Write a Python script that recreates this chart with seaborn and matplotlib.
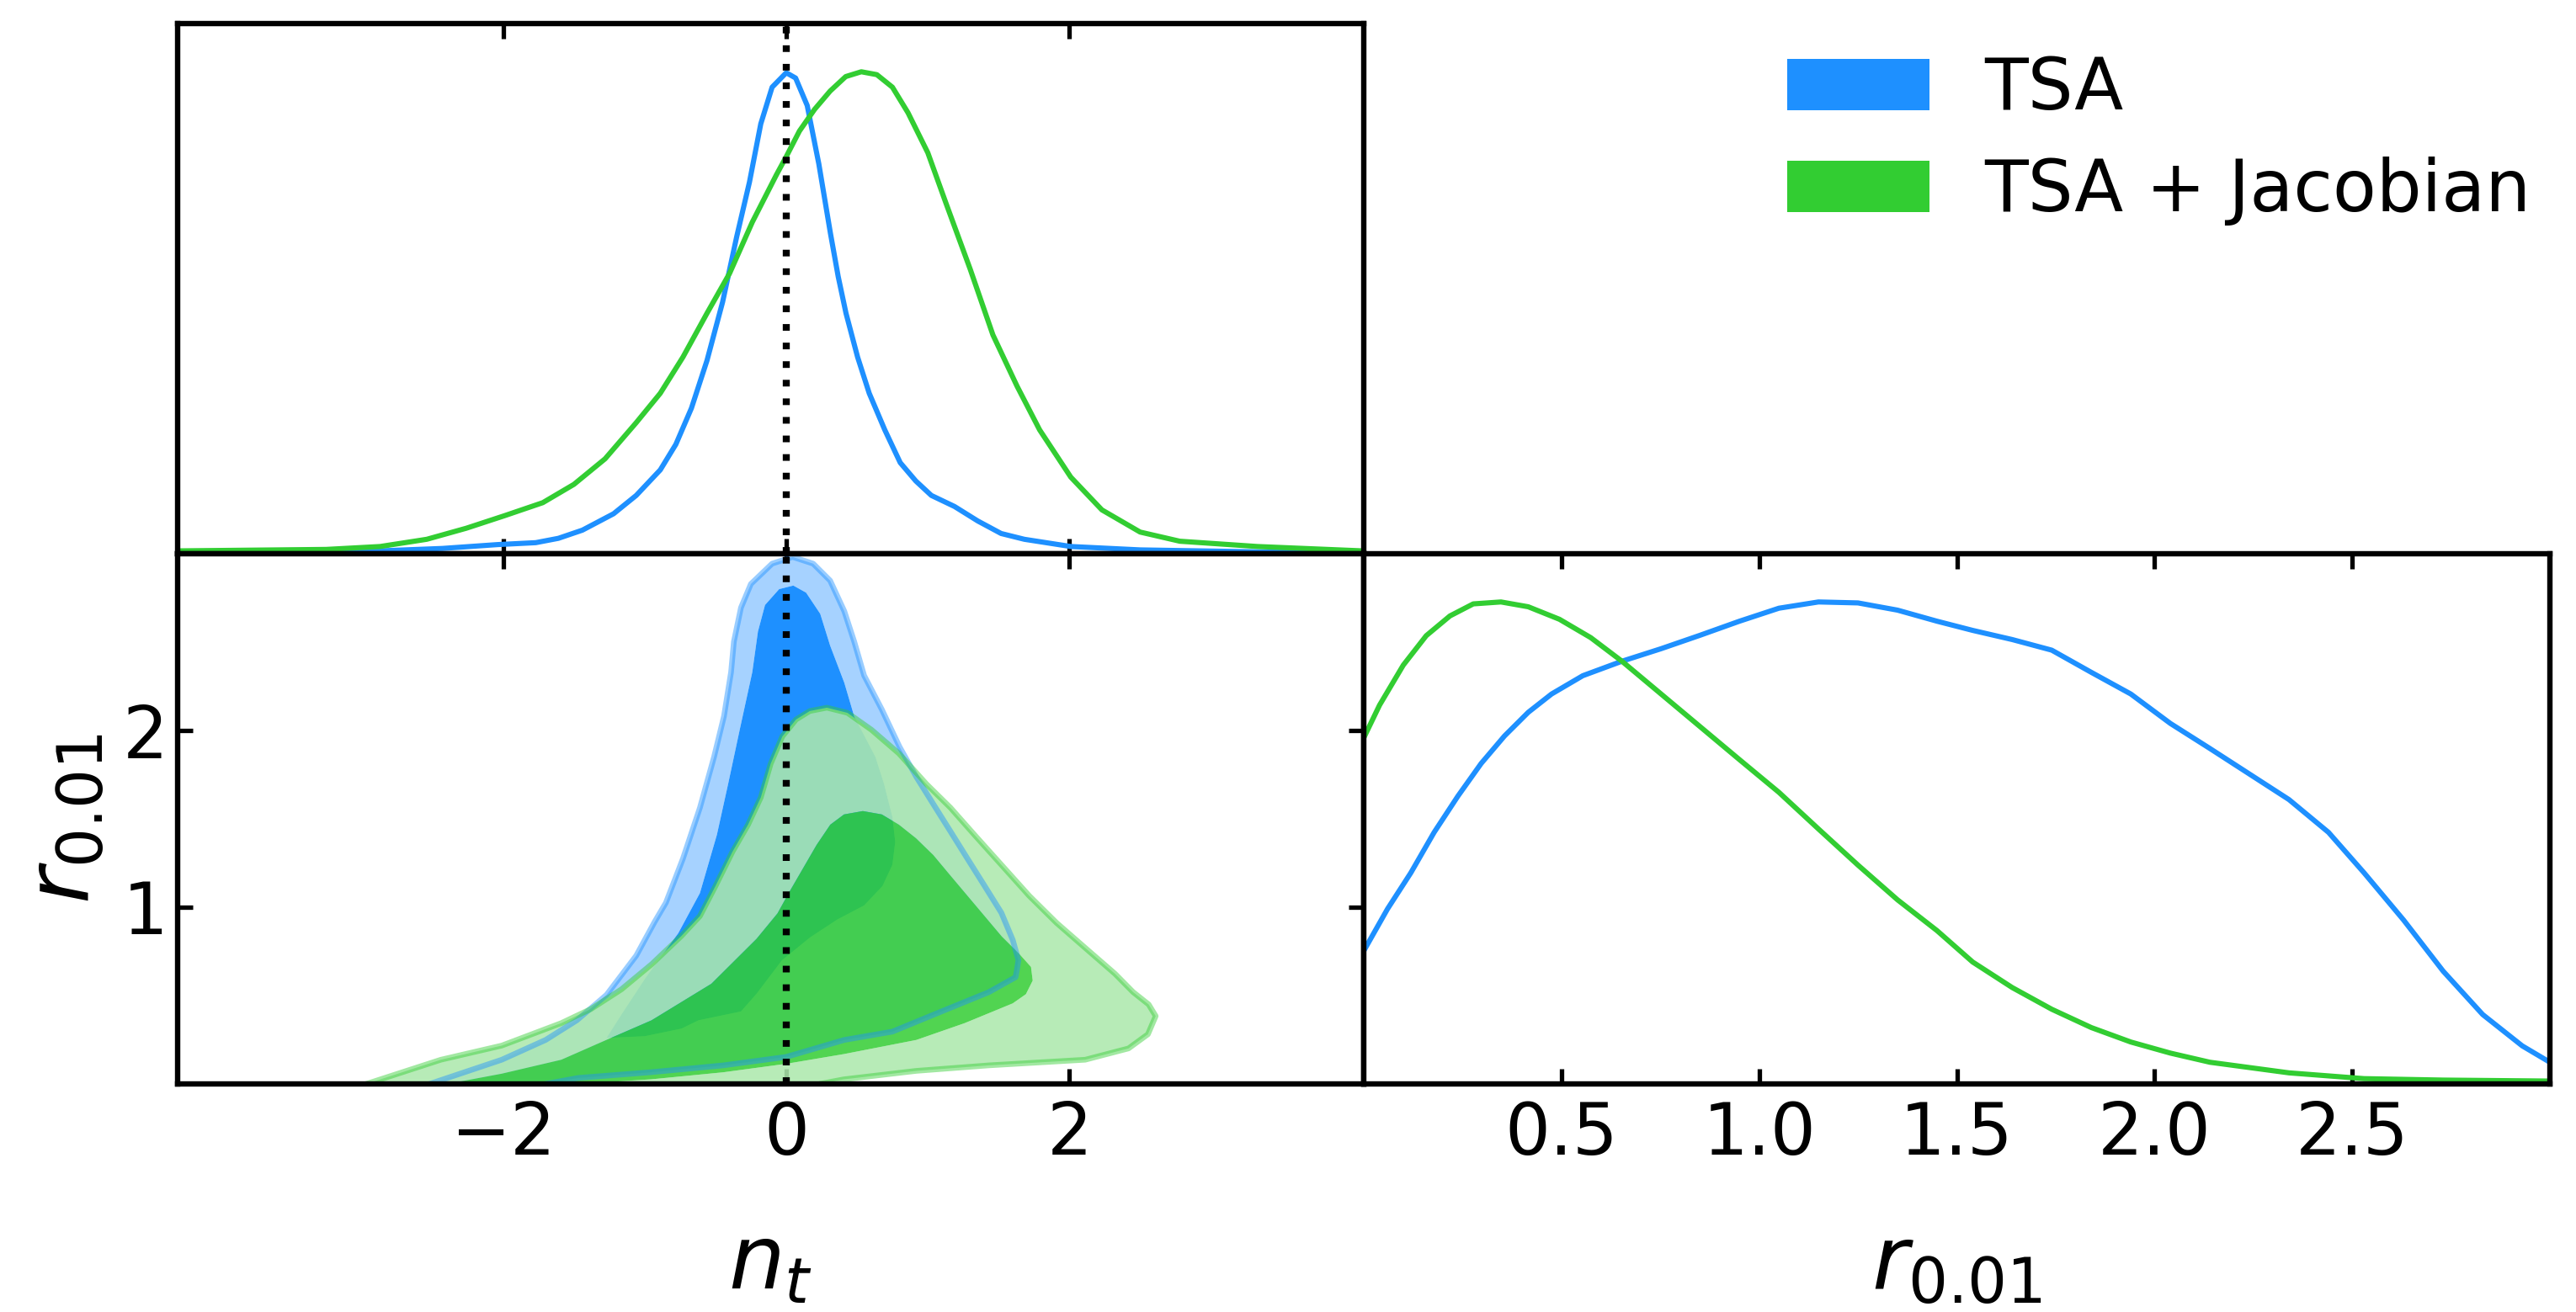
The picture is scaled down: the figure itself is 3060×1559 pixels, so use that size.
import numpy as np
import matplotlib
matplotlib.use("Agg")
import matplotlib.pyplot as plt
import seaborn as sns
from matplotlib.patches import Patch, PathPatch
from matplotlib.path import Path

# ---- 1D marginals (peak normalised to 1) ----
nt_blue_x = [-4.29, -2.87, -2.43, -2.04, -1.77, -1.61, -1.44, -1.22, -1.06, -0.89, -0.78, -0.67,
             -0.56, -0.45, -0.35, -0.26, -0.18, -0.10, 0.0, 0.066, 0.148, 0.23, 0.312, 0.367,
             0.422, 0.504, 0.586, 0.696, 0.805, 0.915, 1.025, 1.189, 1.353, 1.518, 1.682,
             2.011, 2.50, 3.33, 4.07]
nt_blue_y = [0.004, 0.006, 0.011, 0.019, 0.023, 0.032, 0.049, 0.083, 0.121, 0.174, 0.227, 0.302,
             0.401, 0.522, 0.658, 0.771, 0.892, 0.968, 0.998, 0.987, 0.930, 0.809, 0.665, 0.575,
             0.499, 0.408, 0.333, 0.257, 0.189, 0.151, 0.121, 0.098, 0.068, 0.042, 0.030,
             0.015, 0.008, 0.004, 0.002]

nt_green_x = [-4.29, -3.25, -2.87, -2.54, -2.26, -1.99, -1.72, -1.50, -1.28, -1.06, -0.89, -0.73,
              -0.56, -0.40, -0.24, -0.07, 0.0, 0.093, 0.20, 0.31, 0.42, 0.53, 0.64, 0.75, 0.86,
              1.00, 1.13, 1.30, 1.46, 1.63, 1.79, 2.01, 2.23, 2.50, 2.78, 3.33, 4.07]
nt_green_y = [0.006, 0.009, 0.015, 0.030, 0.053, 0.079, 0.106, 0.144, 0.197, 0.272, 0.333, 0.408,
              0.499, 0.582, 0.688, 0.786, 0.824, 0.877, 0.922, 0.960, 0.990, 1.0, 0.994, 0.968,
              0.915, 0.832, 0.726, 0.590, 0.454, 0.348, 0.257, 0.159, 0.091, 0.045, 0.026,
              0.015, 0.006]

r_green_x = [0.0, 0.04, 0.10, 0.158, 0.218, 0.277, 0.347, 0.416, 0.495, 0.574, 0.653, 0.752,
             0.851, 0.950, 1.05, 1.15, 1.25, 1.35, 1.45, 1.54, 1.64, 1.74, 1.84, 1.94, 2.04,
             2.14, 2.34, 2.53, 2.73, 3.0]
r_green_y = [0.718, 0.786, 0.869, 0.930, 0.971, 0.996, 1.0, 0.990, 0.964, 0.926, 0.877, 0.809,
             0.741, 0.673, 0.605, 0.529, 0.454, 0.382, 0.318, 0.253, 0.200, 0.155, 0.117, 0.087,
             0.064, 0.045, 0.023, 0.011, 0.008, 0.006]

r_blue_x = [0.0, 0.06, 0.119, 0.178, 0.238, 0.297, 0.356, 0.416, 0.475, 0.554, 0.653, 0.752,
            0.851, 0.950, 1.05, 1.15, 1.25, 1.35, 1.45, 1.54, 1.64, 1.74, 1.84, 1.94, 2.04,
            2.14, 2.24, 2.34, 2.44, 2.53, 2.63, 2.73, 2.83, 2.93, 3.0]
r_blue_y = [0.276, 0.363, 0.438, 0.522, 0.597, 0.665, 0.722, 0.771, 0.809, 0.847, 0.877, 0.903,
            0.931, 0.960, 0.987, 1.0, 0.998, 0.983, 0.960, 0.941, 0.922, 0.900, 0.854, 0.809,
            0.748, 0.696, 0.643, 0.590, 0.522, 0.438, 0.340, 0.234, 0.144, 0.079, 0.045]

# ---- 2D contours (68% inner, 95% outer), n_t vs r ----
blue95_x = [-2.52, -2.01, -1.70, -1.48, -1.27, -1.06, -0.93, -0.85, -0.73, -0.61, -0.51, -0.44,
            -0.39, -0.37, -0.32, -0.25, -0.10, 0.045, 0.19, 0.31, 0.41, 0.48, 0.55, 0.675, 0.80,
            0.92, 1.04, 1.16, 1.28, 1.40, 1.52, 1.60, 1.64, 1.63, 1.62, 1.43, 1.09, 0.75, 0.41,
            0.0, -0.445, -0.96, -1.47, -1.70]
blue95_y = [0.0, 0.137, 0.249, 0.36, 0.504, 0.726, 0.917, 1.026, 1.275, 1.563, 1.851, 2.081,
            2.33, 2.503, 2.695, 2.829, 2.944, 2.982, 2.944, 2.848, 2.675, 2.503, 2.311, 2.119,
            1.908, 1.736, 1.582, 1.429, 1.275, 1.122, 0.968, 0.815, 0.70, 0.647, 0.604, 0.519,
            0.408, 0.296, 0.249, 0.153, 0.105, 0.066, 0.034, 0.0]

blue68_x = [-1.27, -1.165, -0.995, -0.763, -0.61, -0.49, -0.41, -0.33, -0.24, -0.20, -0.15,
            -0.05, 0.05, 0.14, 0.24, 0.31, 0.41, 0.48, 0.63, 0.69, 0.75, 0.77, 0.75, 0.68, 0.55,
            0.36, 0.17, -0.03, -0.21, -0.32, -0.62, -0.74, -1.0]
blue68_y = [0.26, 0.392, 0.599, 0.853, 1.08, 1.41, 1.70, 2.00, 2.33, 2.56, 2.71, 2.80, 2.82,
            2.78, 2.66, 2.48, 2.27, 2.08, 1.85, 1.70, 1.51, 1.37, 1.24, 1.12, 1.01, 0.93, 0.83,
            0.70, 0.51, 0.41, 0.36, 0.313, 0.27]

green95_x = [-2.967, -2.44, -2.01, -1.59, -1.38, -1.165, -0.95, -0.74, -0.61, -0.50, -0.38,
             -0.27, -0.18, -0.11, -0.028, 0.069, 0.166, 0.287, 0.432, 0.602, 0.796, 0.99, 1.16,
             1.329, 1.523, 1.717, 1.91, 2.129, 2.323, 2.45, 2.56, 2.61, 2.555, 2.418, 2.112,
             1.429, 0.919, 0.407, 0.236]
green95_y = [0.0, 0.137, 0.217, 0.344, 0.424, 0.535, 0.678, 0.838, 0.95, 1.12, 1.314, 1.467,
             1.621, 1.812, 1.966, 2.062, 2.110, 2.129, 2.100, 2.004, 1.870, 1.697, 1.563, 1.410,
             1.237, 1.064, 0.911, 0.758, 0.623, 0.52, 0.45, 0.384, 0.281, 0.201, 0.137, 0.105,
             0.074, 0.026, 0.0]

green68_x = [-2.395, -2.01, -1.589, -1.271, -0.952, -0.529, -0.21, -0.062, 0.020, 0.117, 0.214,
             0.311, 0.408, 0.541, 0.675, 0.796, 0.917, 1.039, 1.160, 1.281, 1.402, 1.523, 1.644,
             1.729, 1.741, 1.693, 1.60, 1.26, 0.919, 0.407, 0.0, -0.445, -0.957, -1.468]
green68_y = [0.0, 0.058, 0.137, 0.249, 0.36, 0.567, 0.821, 0.965, 1.084, 1.218, 1.352, 1.467,
             1.525, 1.544, 1.525, 1.467, 1.390, 1.295, 1.179, 1.064, 0.949, 0.834, 0.738, 0.662,
             0.585, 0.508, 0.456, 0.344, 0.249, 0.169, 0.114, 0.066, 0.026, 0.0]

labels = ['TSA', 'TSA + Jacobian']
BLUE = '#1E90FF'
GREEN = '#32CD32'


def ring_area(xy):
    x, y = xy[:, 0], xy[:, 1]
    return 0.5 * np.sum(x * np.roll(y, -1) - np.roll(x, -1) * y)


def fill_band(ax, ox, oy, ix, iy, color, alpha, z):
    # outer contour minus inner contour, like a contourf band
    outer = np.column_stack([ox, oy])
    inner = np.column_stack([ix, iy])
    if ring_area(outer) * ring_area(inner) > 0:
        inner = inner[::-1]
    verts = np.vstack([outer, outer[:1], inner, inner[:1]])
    codes = ([Path.MOVETO] + [Path.LINETO] * (len(outer) - 1) + [Path.CLOSEPOLY]
             + [Path.MOVETO] + [Path.LINETO] * (len(inner) - 1) + [Path.CLOSEPOLY])
    ax.add_patch(PathPatch(Path(verts, codes), facecolor=color, edgecolor='none',
                           alpha=alpha, zorder=z))


sns.set_style('white')
plt.rcParams['font.family'] = ['DejaVu Sans']
plt.rcParams['mathtext.fontset'] = 'dejavusans'
plt.rcParams['text.color'] = 'black'
plt.rcParams['axes.labelcolor'] = 'black'
plt.rcParams['xtick.color'] = 'black'
plt.rcParams['ytick.color'] = 'black'
plt.rcParams['axes.edgecolor'] = 'black'

W, H = 3060, 1559
fig = plt.figure(figsize=(W / 200, H / 200), dpi=200)
fig.patch.set_facecolor('white')

ax_top = fig.add_axes([211 / W, 1 - 658 / H, 1409 / W, 630 / H])
ax_2d = fig.add_axes([211 / W, 1 - 1288 / H, 1409 / W, 630 / H])
ax_r = fig.add_axes([1620 / W, 1 - 1288 / H, 1409 / W, 630 / H])

LW = 2.2
SPINE = 2.3
dots = (0, (0.95, 1.7))

# top: n_t marginal
sns.lineplot(x=nt_blue_x, y=nt_blue_y, ax=ax_top, color=BLUE, lw=LW)
sns.lineplot(x=nt_green_x, y=nt_green_y, ax=ax_top, color=GREEN, lw=LW)
ax_top.axvline(0, color='black', ls=dots, lw=3.0, zorder=5)
ax_top.set_xlim(-4.3, 4.08)
ax_top.set_ylim(0, 1.1)
ax_top.set_xticks([-2, 0, 2])
ax_top.set_yticks([])
ax_top.tick_params(axis='x', direction='in', top=True, bottom=True, labelbottom=False,
                   length=6.5, width=1.9)

# 2D panel
fill_band(ax_2d, blue95_x, blue95_y, blue68_x, blue68_y, '#A6D2FF', 1.0, 1)
ax_2d.fill(blue68_x, blue68_y, color=BLUE, lw=0, zorder=1)
fill_band(ax_2d, green95_x, green95_y, green68_x, green68_y, '#ADE8AD', 0.87, 2)
ax_2d.fill(green68_x, green68_y, color=GREEN, alpha=0.85, lw=0, zorder=2)
ax_2d.plot(blue95_x, blue95_y, color=BLUE, alpha=0.45, lw=2.4, zorder=3)
ax_2d.plot(green95_x, green95_y, color=GREEN, alpha=0.45, lw=2.4, zorder=3)
ax_2d.axvline(0, color='black', ls=dots, lw=3.0, zorder=5)
ax_2d.set_xlim(-4.3, 4.08)
ax_2d.set_ylim(0, 3.0)
ax_2d.set_xticks([-2, 0, 2])
ax_2d.set_yticks([1, 2])
ax_2d.tick_params(direction='in', top=True, bottom=True, left=True, right=True,
                  length=6.5, width=1.9, labelsize=30.5)
ax_2d.tick_params(axis='x', pad=6.8)
ax_2d.tick_params(axis='y', pad=4)
ax_2d.set_xlabel(r'$n_t$', fontsize=38)
ax_2d.set_ylabel(r'$r_{0.01}$', fontsize=38)
ax_2d.xaxis.set_label_coords(0.5, -0.259)
ax_2d.yaxis.set_label_coords(-0.059, 0.5)

# right: r marginal
sns.lineplot(x=r_blue_x, y=r_blue_y, ax=ax_r, color=BLUE, lw=LW)
sns.lineplot(x=r_green_x, y=r_green_y, ax=ax_r, color=GREEN, lw=LW)
ax_r.set_xlim(0, 3.0)
ax_r.set_ylim(0, 1.1)
ax_r.set_xticks([0.5, 1.0, 1.5, 2.0, 2.5])
ax_r.set_yticks([])
ax_r.tick_params(axis='x', direction='in', top=True, bottom=True, length=6.5, width=1.9,
                 labelsize=30.5, pad=6.8)
ax_r.set_xlabel(r'$r_{0.01}$', fontsize=38)
ax_r.xaxis.set_label_coords(0.5, -0.259)

for ax in (ax_top, ax_2d, ax_r):
    for s in ax.spines.values():
        s.set_linewidth(SPINE)
        s.set_color('black')
        s.set_zorder(10)

handles = [Patch(facecolor=c, edgecolor='none', label=l) for c, l in zip([BLUE, GREEN], labels)]
fig.legend(handles=handles, loc='upper left', bbox_to_anchor=(2123 / W, 1 - 65 / H),
           frameon=False, fontsize=30.5, handlelength=2.0, handleheight=0.72,
           handletextpad=0.76, labelspacing=0.45, borderpad=0, borderaxespad=0)

fig.savefig('out.png', dpi=200, facecolor='white')
